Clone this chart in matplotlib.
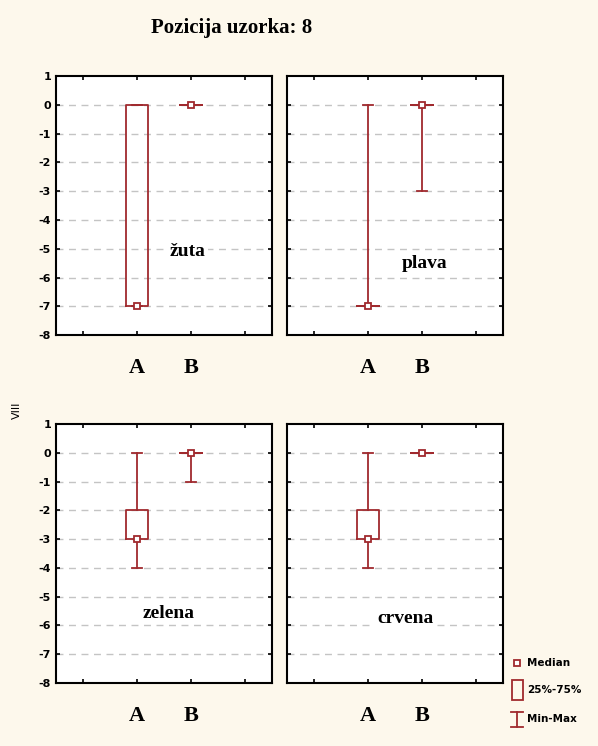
import matplotlib.pyplot as plt

# data
panels = ["žuta", "plava", "zelena", "crvena"]
groups = ["A", "B"]
mins = [[-7, 0], [-7, -3], [-4, -1], [-4, 0]]
maxs = [[0, 0], [0, 0], [0, 0], [0, 0]]
q1s = [[-7, 0], [-7, 0], [-3, 0], [-3, 0]]
q3s = [[0, 0], [-7, 0], [-2, 0], [-2, 0]]
medians = [[-7, 0], [-7, 0], [-3, 0], [-3, 0]]
yticks = list(range(-8, 2))

red = "#a02a2e"
bg = "#fdf8ec"
serif = ["Liberation Serif", "DejaVu Serif"]

fig = plt.figure(figsize=(5.98, 7.46), dpi=100, facecolor=bg)
fig.text(0.388, 0.962, "Pozicija uzorka: 8", ha="center", va="center",
         family=serif, weight="bold", fontsize=15)

lefts = [0.0936, 0.4799]
bottoms = [0.5509, 0.0845]
label_pos = [(1.6, -5.1), (1.62, -5.5), (1.1, -5.57), (1.18, -5.75)]

for i, name in enumerate(panels):
    r, c = divmod(i, 2)
    ax = fig.add_axes([lefts[c], bottoms[r], 0.3612, 0.347])
    ax.set_facecolor("white")
    stats = []
    for j in range(2):
        stats.append({"med": medians[i][j], "q1": q1s[i][j], "q3": q3s[i][j],
                      "whislo": mins[i][j], "whishi": maxs[i][j], "fliers": []})
    lp = dict(color=red, linewidth=1.3)
    ax.bxp(stats, positions=[1, 2], widths=0.4, showfliers=False,
           boxprops=lp, whiskerprops=lp, capprops=lp,
           medianprops=dict(linewidth=0), manage_ticks=False, zorder=3)
    ax.plot([1, 2], medians[i], ls="none", marker="s", ms=4, mfc="white",
            mec=red, mew=1.3, zorder=4)

    ax.set_xlim(-0.5, 3.5)
    ax.set_ylim(-8, 1)
    ax.set_xticks([0, 1, 2, 3])
    ax.set_xticklabels([])
    ax.set_yticks(yticks)
    for y in yticks[1:-1]:
        ax.axhline(y, color="#c4c4c4", ls=(0, (5, 4)), lw=1, zorder=1)
    ax.tick_params(direction="in", top=True, right=True, length=3, width=1.2)
    if c == 0:
        ax.set_yticklabels([str(t) for t in yticks], fontsize=8, weight="bold")
    else:
        ax.set_yticklabels([])
    for s in ax.spines.values():
        s.set_linewidth(1.5)
    for j, g in enumerate(groups):
        ax.text(j + 1, -9.15, g, ha="center", va="center", family=serif,
                weight="bold", fontsize=16, clip_on=False)
    ax.text(label_pos[i][0], label_pos[i][1], name, ha="left", va="center",
            family=serif, weight="bold", fontsize=14, zorder=2,
            bbox=dict(fc="white", ec="none", pad=2))

fig.text(0.028, 0.45, "VIII", rotation=90, ha="center", va="center", fontsize=8)

# legend
lx = 0.865
fig.lines.append(plt.Line2D([lx], [0.111], marker="s", ms=4, mfc="white",
                            mec=red, mew=1.3, transform=fig.transFigure))
fig.patches.append(plt.Rectangle((lx - 0.009, 0.062), 0.018, 0.026, fill=False,
                                 ec=red, lw=1.3, transform=fig.transFigure))
fig.lines.append(plt.Line2D([lx, lx], [0.026, 0.046], color=red, lw=1.3,
                            transform=fig.transFigure))
for yy in [0.026, 0.046]:
    fig.lines.append(plt.Line2D([lx - 0.01, lx + 0.01], [yy, yy], color=red,
                                lw=1.3, transform=fig.transFigure))
for yy, t in [(0.111, "Median"), (0.075, "25%-75%"), (0.036, "Min-Max")]:
    fig.text(lx + 0.016, yy, t, ha="left", va="center", fontsize=7.5,
             weight="bold")

fig.savefig("out.png", dpi=100, facecolor=bg)
